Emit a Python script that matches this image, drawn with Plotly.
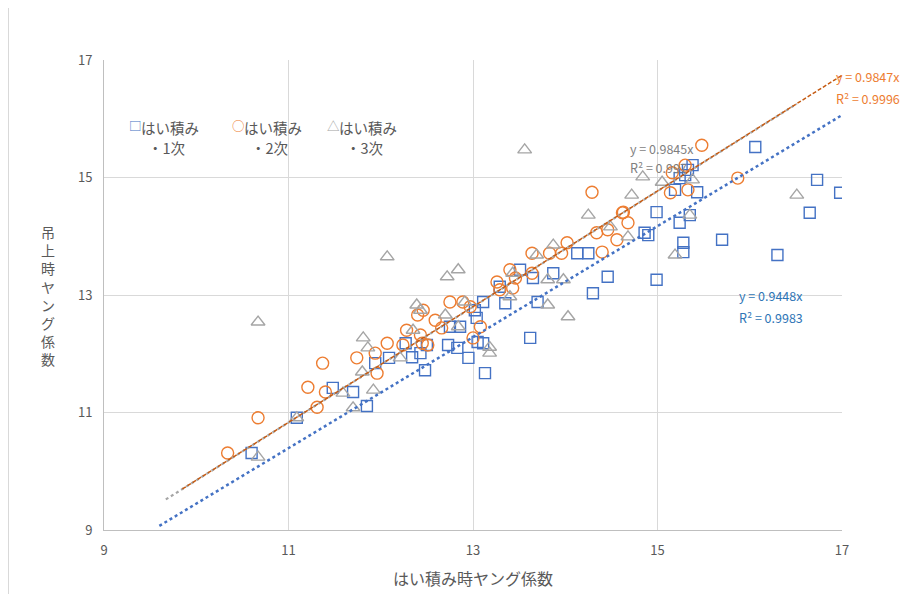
import plotly.graph_objects as go

# ---- data ----
s1_x = [10.60, 11.09, 11.48, 11.70, 11.85, 11.94, 12.09, 12.27, 12.34, 12.48, 12.50, 12.43,
        12.73, 12.75, 12.83, 12.86, 12.95, 13.02, 13.04, 13.05, 13.11, 13.13, 13.11, 13.29,
        13.35, 13.51, 13.65, 13.70, 13.62, 13.87, 14.13, 14.25, 14.30, 14.46, 14.86, 14.90,
        14.99, 14.99, 15.19, 15.24, 15.30, 15.33, 15.38, 15.43, 15.24, 15.35, 15.28, 15.28,
        15.70, 16.06, 16.73, 16.98, 16.65, 16.30]
s1_y = [10.31, 10.91, 11.42, 11.35, 11.11, 11.84, 11.93, 12.18, 11.94, 11.72, 12.15, 12.01,
        12.15, 12.46, 12.10, 12.46, 11.93, 12.74, 12.61, 12.20, 12.18, 11.67, 12.88, 13.14,
        12.86, 13.43, 13.29, 12.88, 12.27, 13.37, 13.71, 13.71, 13.03, 13.31, 14.06, 14.02,
        14.41, 13.26, 14.79, 14.99, 15.04, 15.13, 15.21, 14.75, 14.23, 14.36, 13.89, 13.73,
        13.94, 15.52, 14.96, 14.74, 14.40, 13.68]

s2_x = [10.34, 10.67, 11.21, 11.31, 11.37, 11.40, 11.74, 11.94, 11.96, 12.07, 12.24, 12.28,
        12.40, 12.45, 12.43, 12.51, 12.46, 12.59, 12.66, 12.75, 12.89, 12.97, 13.08, 13.00,
        13.26, 13.29, 13.43, 13.40, 13.46, 13.64, 13.64, 13.83, 13.96, 14.02, 14.34, 14.29,
        14.46, 14.56, 14.40, 14.62, 14.63, 14.68, 15.14, 15.33, 15.16, 15.30, 15.48, 15.87]
s2_y = [10.31, 10.91, 11.43, 11.09, 11.84, 11.35, 11.93, 12.01, 11.67, 12.18, 12.15, 12.40,
        12.66, 12.18, 12.32, 12.15, 12.74, 12.57, 12.44, 12.88, 12.88, 12.80, 12.46, 12.27,
        13.22, 13.09, 13.12, 13.43, 13.29, 13.71, 13.37, 13.71, 13.71, 13.89, 14.06, 14.75,
        14.11, 13.94, 13.73, 14.40, 14.41, 14.23, 14.74, 14.79, 15.08, 15.21, 15.55, 14.99]

s3_x = [10.67, 10.67, 11.09, 11.59, 11.70, 11.80, 11.92, 11.81, 11.86, 12.07, 12.21, 12.35,
        12.39, 12.43, 12.70, 12.72, 12.84, 12.84, 12.91, 13.18, 13.18, 13.40, 13.43, 13.69,
        13.87, 13.81, 13.98, 13.81, 14.03, 13.56, 14.25, 14.49, 14.68, 14.72, 14.84, 15.05,
        15.35, 15.19, 15.38, 16.51]
s3_y = [12.54, 10.24, 10.91, 11.33, 11.08, 11.69, 11.38, 12.27, 12.10, 13.65, 11.93, 12.40,
        12.83, 12.74, 12.66, 13.31, 13.43, 12.46, 12.88, 12.11, 12.01, 12.97, 13.37, 13.68,
        13.85, 13.26, 13.26, 12.83, 12.63, 15.47, 14.36, 14.16, 13.99, 14.70, 15.01, 14.92,
        14.36, 13.68, 14.96, 14.70]

series_names = ["はい積み・1次", "はい積み・2次", "はい積み・3次"]
legend_line1 = ["はい積み", "はい積み", "はい積み"]
legend_line2 = ["・1次", "・2次", "・3次"]
legend_glyphs = ["□", "○", "△"]
slopes = [0.9448, 0.9847, 0.9845]
r2 = [0.9983, 0.9996, 0.997]
trend_ranges = [[9.6, 17.0], [9.85, 17.0], [9.67, 16.51]]

x_ticks = [9, 11, 13, 15, 17]
y_ticks = [9, 11, 13, 15, 17]
x_title = "はい積み時ヤング係数"
y_title = "吊上時ヤング係数"

# ---- style ----
colors = ["#4472C4", "#ED7D31", "#A5A5A5"]
symbols = ["square-open", "circle-open", "triangle-up-open"]
sizes = [11, 12, 12]
FONT = "Noto Sans CJK JP"
TXT = "#595959"

fig = go.Figure()
for xs, ys, name, c, sym, sz in zip([s1_x, s2_x, s3_x], [s1_y, s2_y, s3_y],
                                    series_names, colors, symbols, sizes):
    fig.add_trace(go.Scatter(x=xs, y=ys, mode="markers", name=name, showlegend=False,
                             marker=dict(symbol=sym, size=sz, color=c,
                                         line=dict(width=1.4, color=c))))

dashes = ["dot", "4px,2px", "dot"]
widths = [2.5, 1.5, 2.2]
line_cols = ["#4472C4", "#C55A11", "#A5A5A5"]
for k in [2, 1, 0]:
    x0, x1 = trend_ranges[k]
    fig.add_trace(go.Scatter(x=[x0, x1], y=[slopes[k] * x0, slopes[k] * x1],
                             mode="lines", showlegend=False, hoverinfo="skip",
                             line=dict(color=line_cols[k], width=widths[k], dash=dashes[k])))

# page body has an 8px margin: the figure is drawn 8px right / down
OFF = 8
W, H = 917 - OFF, 594 - OFF
# plot area in reference pixels: left 104, right 842, top 60, bottom 530
L, R, T, B = 104, 842, 60, 530
def px(x):
    return (x - L) / (R - L)
def py(y):
    return (B - y) / (B - T)

def txt(x, y, s, col, size, xa="left"):
    return dict(x=px(x), y=py(y), xref="paper", yref="paper", xanchor=xa,
                yanchor="middle", showarrow=False, text=s,
                font=dict(family=FONT, size=size, color=col))

eq_specs = [
    (737, 295, 317, 0, "#2E75B6"),
    (834, 76, 98, 1, "#ED7D31"),
    (628, 148, 167, 2, "#7F7F7F"),
]
ann = []
for x0, y1, y2, k, col in eq_specs:
    ann.append(txt(x0, y1, f"y = {slopes[k]}x", col, 12.5))
    ann.append(txt(x0, y2, f"R² = {r2[k]}", col, 12.5))

# legend (Excel style, two-line entries)
leg_x = [127, 230, 325]
for k in range(3):
    ann.append(txt(leg_x[k], 126, legend_glyphs[k], colors[k], 12.5))
    ann.append(txt(leg_x[k] + 12, 127, legend_line1[k], TXT, 14.5))
    ann.append(txt(leg_x[k] + 19, 147, legend_line2[k], TXT, 14.5))

ann.append(dict(x=px(48), y=py(295), xref="paper", yref="paper", xanchor="center",
                yanchor="middle", showarrow=False, text="<br>".join(list(y_title)),
                font=dict(family=FONT, size=14, color=TXT)))
ann.append(txt(473, 578, x_title, TXT, 16, xa="center"))

fig.update_layout(
    width=W, height=H,
    margin=dict(l=L - OFF, r=917 - R, t=T - OFF, b=594 - B),
    paper_bgcolor="white", plot_bgcolor="white",
    font=dict(family=FONT, color=TXT, size=13),
    annotations=ann,
    showlegend=False,
    shapes=[dict(type="line", xref="paper", yref="paper", x0=px(8.5), x1=px(8.5),
                 y0=py(8), y1=py(594), line=dict(color="#D9D9D9", width=1))],
)
fig.update_xaxes(range=[9, 17], tickvals=x_ticks, ticktext=[str(t) for t in x_ticks],
                 showgrid=True, gridcolor="#D9D9D9", gridwidth=1, zeroline=False,
                 showline=True, linecolor="#BFBFBF", linewidth=1, ticks="",
                 tickfont=dict(size=13, color=TXT), ticklabelstandoff=8)
fig.update_yaxes(range=[9, 17], tickvals=y_ticks, ticktext=[str(t) for t in y_ticks],
                 showgrid=True, gridcolor="#D9D9D9", gridwidth=1, zeroline=False,
                 showline=True, linecolor="#BFBFBF", linewidth=1, ticks="",
                 tickfont=dict(size=13, color=TXT), ticklabelstandoff=8)

fig.write_html("out.html")
